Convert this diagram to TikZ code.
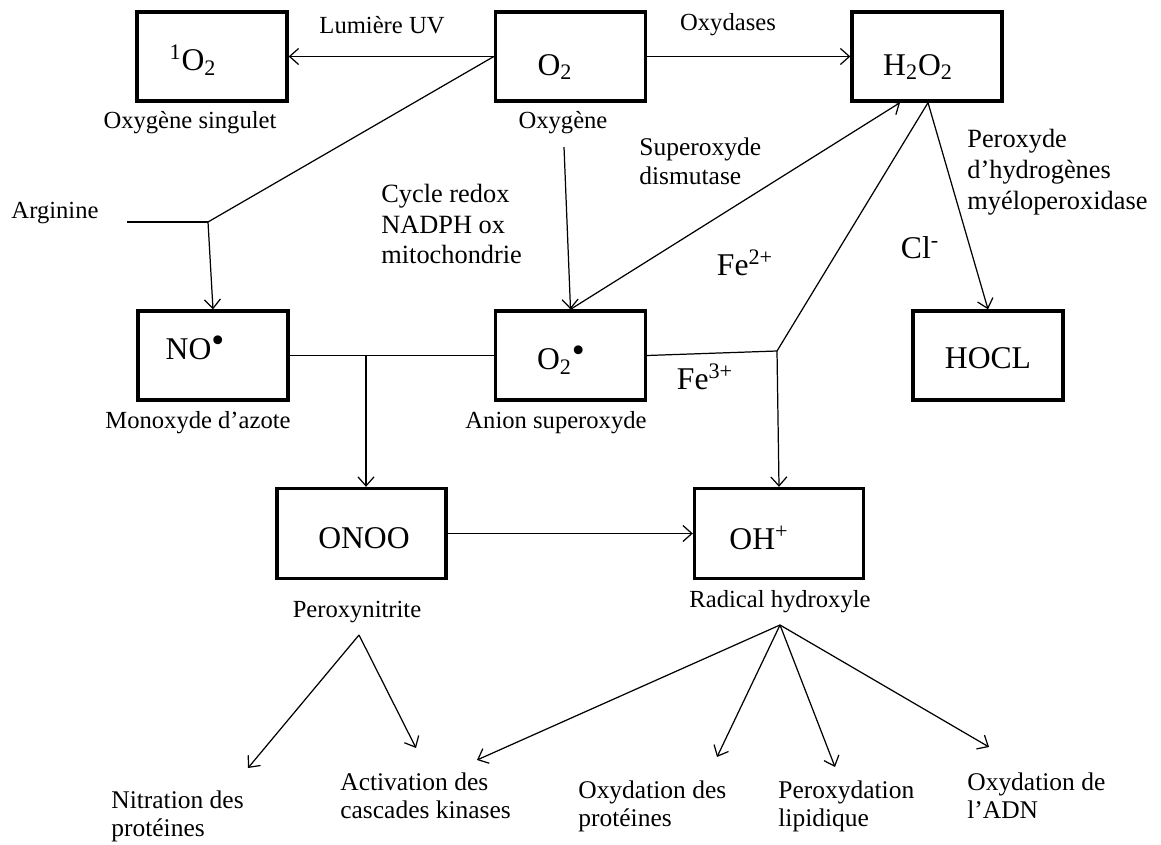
\documentclass[tikz,border=0pt]{standalone}
\usepackage{fontspec}
\setmainfont{Liberation Serif}
\usetikzlibrary{arrows.meta}
\newcommand{\rad}{{\fontsize{21}{21}\selectfont\raisebox{0.2em}{•}}}

\begin{document}
\begin{tikzpicture}[
		boite/.style={draw, line width=1.9pt, minimum width=3cm, minimum height=1.78cm, inner sep=0pt},
		grande/.style={boite, minimum width=3.38cm, minimum height=1.8cm},
		chim/.style={font=\fontsize{18}{20}\selectfont, inner sep=0pt},
		etiq/.style={font=\fontsize{14}{16}\selectfont, inner sep=0pt},
		bloc/.style={font=\fontsize{15}{17.5}\selectfont, align=left, anchor=west, inner sep=0pt},
		effet/.style={font=\fontsize{14.5}{16}\selectfont, align=left, anchor=west, inner sep=0pt},
		lien/.style={line width=0.7pt},
		fleche/.style={lien, -{Straight Barb[length=1.8mm,width=3.2mm]}}
	]
				\useasboundingbox (0,0) rectangle (23.22,16.88);
				
				% Espèces (cadres)
				\node[boite] (s1o2) at (4.24, 15.75) {};
				\node[boite] (o2) at (11.41, 15.75) {};
				\node[boite] (h2o2) at (18.54, 15.75) {};
				\node[boite] (no) at (4.26, 9.77) {};
				\node[boite] (o2r) at (11.41, 9.77) {};
				\node[boite] (hocl) at (19.76, 9.77) {};
				\node[grande] (onoo) at (7.23, 6.21) {};
				\node[grande] (oh) at (15.58, 6.21) {};
				
				% Formules dans les cadres
				\node[chim] (t1o2) at (3.86, 15.68) {\textsuperscript{1}O\textsubscript{2}};
				\node[chim] (to2) at (11.10, 15.54) {O\textsubscript{2}};
				\node[chim] (th2o2) at (18.36, 15.54) {H\textsubscript{2}O\textsubscript{2}};
				\node[chim] (tno) at (3.90, 9.92) {NO\rad};
				\node[chim] (to2r) at (11.22, 9.68) {O\textsubscript{2}\rad};
				\node[chim] (thocl) at (19.76, 9.72) {HOCL};
				\node[chim] (tonoo) at (7.28, 6.12) {ONOO};
				\node[chim] (toh) at (15.18, 6.12) {OH\textsuperscript{+}};
				
				% Noms sous les cadres
				\node[etiq] (lsing) at (3.80, 14.42) {Oxygène singulet};
				\node[etiq] (loxy) at (11.26, 14.42) {Oxygène};
				\node[etiq] (lno) at (3.96, 8.42) {Monoxyde d’azote};
				\node[etiq] (lanion) at (11.12, 8.42) {Anion superoxyde};
				\node[etiq] (lperox) at (7.14, 4.64) {Peroxynitrite};
				\node[etiq] (lrad) at (15.60, 4.84) {Radical hydroxyle};
				
				% Réactions et enzymes
				\node[etiq] (uv) at (7.64, 16.38) {Lumière UV};
				\node[etiq] (oxyd) at (14.56, 16.38) {Oxydases};
				\node[etiq] (arg) at (1.10, 12.62) {Arginine};
				\node[bloc] (cycle) at (7.62, 12.40) {Cycle redox\\NADPH ox\\mitochondrie};
				\node[bloc, font=\fontsize{14.5}{16.5}\selectfont] (sod) at (12.78, 13.66) {Superoxyde\\dismutase};
				\node[bloc] (mpo) at (19.34, 13.44) {Peroxyde\\d’hydrogènes\\myéloperoxidase};
				\node[chim] (fe2) at (14.90, 11.62) {Fe\textsuperscript{2+}};
				\node[chim] (cl) at (18.40, 11.92) {Cl\textsuperscript{-}};
				\node[chim] (fe3) at (14.10, 9.34) {Fe\textsuperscript{3+}};
				
				% Effets
				\node[effet] (nitr) at (2.22, 0.56) {Nitration des\\protéines};
				\node[effet] (activ) at (6.80, 0.96) {Activation des\\cascades kinases};
				\node[effet] (oxprot) at (11.56, 0.76) {Oxydation des\\protéines};
				\node[effet] (lipid) at (15.56, 0.76) {Peroxydation\\lipidique};
				\node[effet] (adn) at (19.34, 0.96) {Oxydation de\\l’ADN};
				
				% Points de jonction
				\coordinate (argdeb) at (2.54, 12.44);
				\coordinate (argj) at (4.16, 12.44);
				\coordinate (o2bas) at (11.28, 13.94);
				\coordinate (fej) at (15.54, 9.86);
				\coordinate (nojn) at (7.32, 9.77);
				\coordinate (pk) at (7.18, 4.18);
				\coordinate (rh) at (15.60, 4.38);
				\coordinate (bnitr) at (4.96, 1.52);
				\coordinate (bactiv) at (8.32, 1.92);
				\coordinate (bactiv2) at (9.54, 1.68);
				\coordinate (boxprot) at (14.34, 1.74);
				\coordinate (blipid) at (16.70, 1.54);
				\coordinate (badn) at (19.78, 1.94);
				
				% Liaisons
				\draw[fleche] (o2.west) -- (s1o2.east);
				\draw[fleche] (o2.east) -- (h2o2.west);
				\draw[lien] (o2.west) -- (argj);
				\draw[lien] (argdeb) -- (argj);
				\draw[fleche] (argj) -- (no.north);
				\draw[fleche] (o2bas) -- (o2r.north);
				\draw[fleche] (o2r.north) -- ([xshift=-0.54cm]h2o2.south);
				\draw[lien] ([xshift=0.02cm]h2o2.south) -- (fej) -- (o2r.east);
				\draw[fleche] (fej) -- (oh.north);
				\draw[fleche] ([xshift=0.02cm]h2o2.south) -- (hocl.north);
				\draw[lien] (no.east) -- (o2r.west);
				\draw[fleche] (nojn) -- (nojn |- onoo.north);
				\draw[fleche] (onoo.east) -- (oh.west);
				
				% Conséquences
				\draw[fleche] (pk) -- (bnitr);
				\draw[fleche] (pk) -- (bactiv);
				\draw[fleche] (rh) -- (bactiv2);
				\draw[fleche] (rh) -- (boxprot);
				\draw[fleche] (rh) -- (blipid);
				\draw[fleche] (rh) -- (badn);
			\end{tikzpicture}
\end{document}
